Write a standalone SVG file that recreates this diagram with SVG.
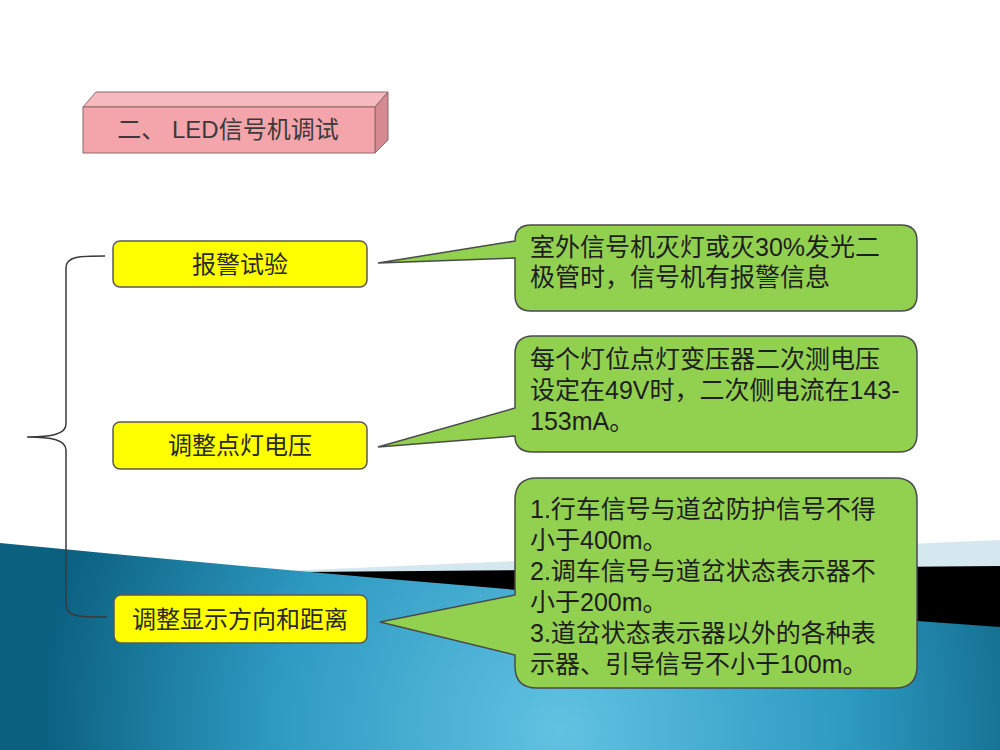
<svg xmlns="http://www.w3.org/2000/svg" width="1000" height="750" viewBox="0 0 1000 750">
<defs>
<radialGradient id="sea" gradientUnits="userSpaceOnUse" cx="560" cy="730" r="520">
<stop offset="0" stop-color="#62c2e2"/>
<stop offset="0.55" stop-color="#2e9ac2"/>
<stop offset="1" stop-color="#0b6080"/>
</radialGradient>
<style>
.cjk{font-family:"Liberation Sans","Noto Sans CJK SC",sans-serif;}
.box{fill:#ffff00;stroke:#5a5a5a;stroke-width:1.5;}
.bub{fill:#92d050;stroke:#4a4a4a;stroke-width:1.5;}
.lbl{font-size:24px;fill:#2a2a2a;text-anchor:middle;}
.btx{font-size:25px;fill:#1e1e1e;}
.brace{fill:none;stroke:#3a3a3a;stroke-width:1.5;}
</style>
</defs>
<rect width="1000" height="750" fill="#ffffff"/>
<g id="background">
<path d="M260,572 L1000,540 L1000,650 L260,590 Z" fill="#d6e8ef"/>
<path d="M300,572 L1000,566 L1000,650 L300,590 Z" fill="#000000"/>
<path d="M0,543 Q500,592 1000,627 L1000,750 L0,750 Z" fill="url(#sea)"/>
</g>
<g id="title">
<path d="M83,107 L96,92 L388,92 L375,107 Z" fill="#f6b9bd" stroke="#8a6a6a" stroke-width="1"/>
<path d="M375,107 L388,92 L388,140 L375,153 Z" fill="#d48a90" stroke="#8a6a6a" stroke-width="1"/>
<rect x="83" y="107" width="292" height="46" fill="#f4a5ab" stroke="#8a6a6a" stroke-width="1"/>
<text class="cjk" x="228" y="138" font-size="24" fill="#3a3a3a" text-anchor="middle">二、 LED信号机调试</text>
</g>
<g id="connectors">
<path class="brace" d="M105,256 C80,256 66,256 66,268 L66,424 C66,434 52,437 27,437 C52,437 66,440 66,450 L66,605 C66,617 80,617 107,617"/>
</g>
<g id="node-alarm">
<rect class="box" x="113" y="241" width="254" height="46" rx="7"/>
<text class="cjk lbl" x="240" y="273">报警试验</text>
</g>
<g id="node-voltage">
<rect class="box" x="113" y="422" width="254" height="47" rx="7"/>
<text class="cjk lbl" x="240" y="454">调整点灯电压</text>
</g>
<g id="node-direction">
<rect class="box" x="114" y="595" width="253" height="48" rx="7"/>
<text class="cjk lbl" x="240" y="628">调整显示方向和距离</text>
</g>
<g id="callout-alarm">
<path class="bub" d="M531,225 H901 Q917,225 917,241 V295 Q917,311 901,311 H531 Q515,311 515,295 V258 L378,263 L515,241 Q515,225 531,225 Z"/>
<text class="cjk btx" x="530" y="256">室外信号机灭灯或灭30%发光二</text>
<text class="cjk btx" x="530" y="286">极管时，信号机有报警信息</text>
</g>
<g id="callout-voltage">
<path class="bub" d="M533,336 H899 Q917,336 917,354 V434 Q917,452 899,452 H533 Q515,452 515,436 L378,447 L515,408 V354 Q515,336 533,336 Z"/>
<text class="cjk btx" x="530" y="368">每个灯位点灯变压器二次测电压</text>
<text class="cjk btx" x="530" y="399">设定在49V时，二次侧电流在143-</text>
<text class="cjk btx" x="530" y="430">153mA。</text>
</g>
<g id="callout-direction">
<path class="bub" d="M537,478 H895 Q917,478 917,500 V666 Q917,688 895,688 H537 Q515,688 515,666 V655 L380,622 L515,595 V500 Q515,478 537,478 Z"/>
<text class="cjk btx" x="530" y="518">1.行车信号与道岔防护信号不得</text>
<text class="cjk btx" x="530" y="549">小于400m。</text>
<text class="cjk btx" x="530" y="580">2.调车信号与道岔状态表示器不</text>
<text class="cjk btx" x="530" y="611">小于200m。</text>
<text class="cjk btx" x="530" y="642">3.道岔状态表示器以外的各种表</text>
<text class="cjk btx" x="530" y="673">示器、引导信号不小于100m。</text>
</g>
</svg>
